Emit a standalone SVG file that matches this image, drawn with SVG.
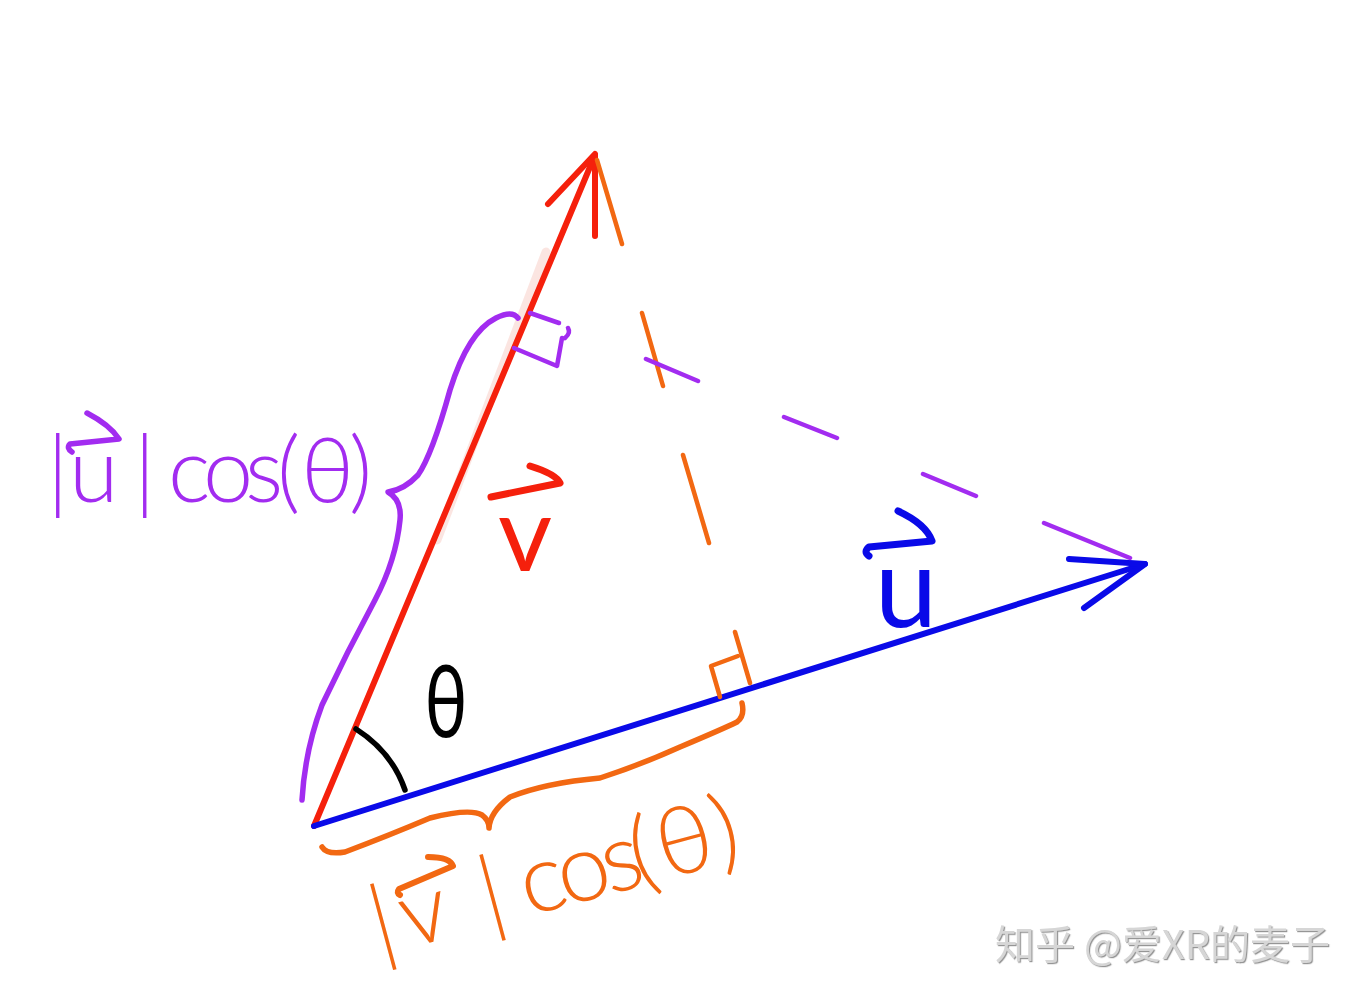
<svg xmlns="http://www.w3.org/2000/svg" width="1367" height="1000" viewBox="0 0 1367 1000">
<defs>
<style>
.stroke{fill:none;stroke-linecap:round;stroke-linejoin:round}
.red{stroke:#f5200c}
.blue{stroke:#0a0ae8}
.purple{stroke:#a22cf0}
.orange{stroke:#f26812}
.vec{stroke-width:6}
.dash{stroke-width:4.5}
.pen{stroke-width:5.5}
.hand{font-family:"Lato","Liberation Sans","DejaVu Sans",sans-serif;font-weight:300}
.bold{font-weight:400}
.tred{fill:#f5200c}
.tblue{fill:#0a0ae8}
.tpurple{fill:#a22cf0}
.torange{fill:#f26812}
.wm{font-family:"Noto Sans CJK SC","Noto Sans",sans-serif;font-size:40px;fill:#d6d6d6}
</style>
<filter id="emb" x="-5%" y="-20%" width="110%" height="140%">
<feDropShadow dx="1.2" dy="1.2" stdDeviation="0.6" flood-color="#8a8a8a" flood-opacity="0.9"/>
</filter>
</defs>
<rect width="1367" height="1000" fill="#ffffff"/>

<g id="highlight">
<path d="M546,252 L437,540" stroke="#fbe2de" stroke-width="9" fill="none" stroke-linecap="round" opacity="0.9"/>
</g>

<g id="connectors">
<!-- vector v (red) -->
<path class="stroke red vec" d="M314,826 L595,155"/>
<path class="stroke red vec" d="M548,204 L595,154 L595,236"/>
<!-- vector u (blue) -->
<path class="stroke blue vec" d="M314,826 L1145,564"/>
<path class="stroke blue vec" d="M1069,559 L1145,564 L1084,608"/>
<!-- orange dashed projection of v onto u -->
<path class="stroke orange dash" d="M597,160 L622,244 M642,313 L663,386 M683,455 L709,543 M735,632 L750,683"/>
<!-- orange right angle -->
<path class="stroke orange dash" d="M738,656 L711,666 L720,697"/>
<!-- purple dashed projection of u onto v -->
<path class="stroke purple dash" d="M646,359 L698,381 M784,417 L837,438 M923,474 L976,496 M1044,523 L1130,558"/>
<!-- purple right angle -->
<path class="stroke purple dash" d="M530,313 L559,323 M514,348 L557,366 L562,338 M565,338 Q571,333 568,328"/>
<!-- purple brace -->
<path class="stroke purple pen" d="M518,318 Q512,310 496,318 Q468,332 450,390 Q432,455 418,475 Q404,490 388,492 Q402,500 400,520 Q396,560 375,600 Q347,652 322,705 Q305,750 302,800"/>
<!-- orange brace -->
<path class="stroke orange pen" d="M322,847 Q327,855 345,852 Q390,835 430,818 Q470,808 482,815 Q489,820 489,828 Q490,812 510,797 Q545,783 600,778 Q640,765 680,747 Q725,728 737,722 Q745,716 742,703"/>
<!-- angle arc -->
<path class="stroke pen" stroke="#000000" d="M356,729 Q392,752 405,790"/>
</g>

<g id="label-theta">
<text class="hand bold" font-size="100" fill="#000" text-anchor="middle" transform="translate(446,737) scale(0.72,1)">θ</text>
</g>

<g id="label-v">
<path class="stroke red" stroke-width="7" d="M530,466 Q556,474 560,483 L491,497"/>
<text class="hand bold tred" font-size="105" text-anchor="middle" x="525" y="571">v</text>
</g>

<g id="label-u">
<path class="stroke blue" stroke-width="7" d="M898,511 Q926,524 932,541 L869,547 Q863,552 869,556"/>
<text class="hand bold tblue" font-size="112" text-anchor="middle" x="906" y="627">u</text>
</g>

<g id="label-u-proj">
<path class="stroke purple" stroke-width="5.5" d="M87,413 Q110,425 119,439 L70,444 Q66,448 72,452"/>
<text class="hand tpurple" font-size="90" x="47 69 134 160 168 203 245 277 301 349" y="502">|u| cos(θ)</text>
</g>

<g id="label-v-proj" transform="translate(395,952) rotate(-15)">
<text class="hand torange" font-size="95" x="-16 14 97 122 138 176 222 252 280 338" y="0">|v| cos(θ)</text>
</g>
<g id="label-v-proj-arrow">
<path class="stroke orange" stroke-width="6" d="M428,857 Q450,857 453,866 L399,889 Q396,893 400,895"/>
</g>

<g id="watermark">
<text class="wm" x="995" y="959" filter="url(#emb)">知乎 @爱XR的麦子</text>
</g>
</svg>
